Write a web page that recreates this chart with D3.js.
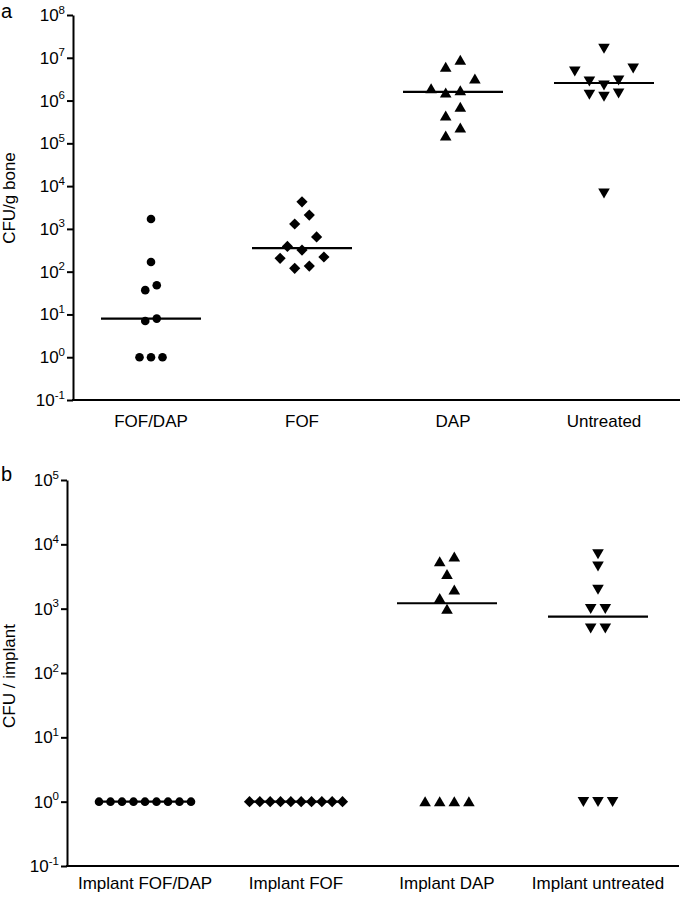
<!DOCTYPE html>
<html>
<head>
<meta charset="utf-8">
<script src="https://cdn.jsdelivr.net/npm/d3@7"></script>
<style>
  html, body { margin: 0; padding: 0; background: #fff; }
  svg { display: block; }
  text { font-family: "Liberation Sans", Arial, Helvetica, sans-serif; fill: #000; }
</style>
</head>
<body>
<svg id="chart" width="680" height="897"></svg>
<script>
// ---------- DATA ----------
const boneCategories = ["FOF/DAP", "FOF", "DAP", "Untreated"];
const implantCategories = ["Implant FOF/DAP", "Implant FOF", "Implant DAP", "Implant untreated"];

// Panel a: CFU / g bone
const boneFofDap    = [1700, 168, 48, 37, 8, 7, 1, 1, 1];
const boneFof       = [4300, 2100, 1300, 650, 390, 320, 220, 205, 135, 120];
const boneDap       = [8.8e6, 6.0e6, 3.2e6, 1.9e6, 1.7e6, 1.5e6, 7.0e5, 4.4e5, 2.3e5, 1.5e5];
const boneUntreated = [1.65e7, 5.7e6, 4.9e6, 3.0e6, 2.85e6, 2.3e6, 1.5e6, 1.4e6, 1.25e6, 6900];

// Panel b: CFU / implant
const implantFofDap    = [1, 1, 1, 1, 1, 1, 1, 1, 1];
const implantFof       = [1, 1, 1, 1, 1, 1, 1, 1, 1, 1];
const implantDap       = [6400, 5400, 3400, 1950, 1450, 980, 1, 1, 1, 1];
const implantUntreated = [7100, 4600, 2000, 1000, 1000, 500, 500, 1, 1, 1];

// Tick exponents (labels 10^n)
const boneTickExponents = [-1, 0, 1, 2, 3, 4, 5, 6, 7, 8];
const implantTickExponents = [-1, 0, 1, 2, 3, 4, 5];

const boneTitle = "CFU/g bone";
const implantTitle = "CFU / implant";

// ---------- DRAWING ----------
const svg = d3.select("#chart");
const symbolsOrder = ["circle", "diamond", "triUp", "triDown"];

function markerPath(type) {
  if (type === "diamond") return "M0,-5.6L5.6,0L0,5.6L-5.6,0Z";
  if (type === "triUp") return "M0,-5.4L5.8,4.6L-5.8,4.6Z";
  if (type === "triDown") return "M0,5.4L5.8,-4.6L-5.8,-4.6Z";
  return null;
}

function swarm(vals, y, baseStep, maxSpread) {
  const items = vals.map((v, i) => ({ v, i, y: y(v) }))
    .sort((a, b) => a.y - b.y || a.i - b.i);
  const rows = [];
  let cur = null;
  items.forEach(it => {
    if (cur && it.y - cur.last <= 10.5 && it.y - cur.start <= 18) {
      cur.items.push(it); cur.last = it.y;
    } else {
      cur = { start: it.y, last: it.y, items: [it] };
      rows.push(cur);
    }
  });
  rows.forEach(r => {
    const n = r.items.length;
    const step = n > 1 ? Math.min(baseStep, maxSpread / (n - 1)) : 0;
    const order = [];
    let lo = 0, hi = n - 1;
    while (lo <= hi) { order.push(hi); if (lo !== hi) order.push(lo); hi--; lo++; }
    r.items.forEach((it, k) => { it.dx = (order[k] - (n - 1) / 2) * step; });
  });
  return items;
}

function drawPanel(cfg) {
  const g = svg.append("g");
  const y = d3.scaleLog().domain([0.1, Math.pow(10, d3.max(cfg.ticks))])
    .range([cfg.yBottom, cfg.yTop]);
  const x = d3.scalePoint().domain(cfg.categories)
    .range([cfg.x0 + 78, cfg.x0 + 78 + 453]);

  // Y axis
  const yAxis = d3.axisLeft(y)
    .tickValues(cfg.ticks.map(e => Math.pow(10, e)))
    .tickSize(6).tickSizeOuter(0).tickFormat(() => "");
  const ya = g.append("g").attr("transform", `translate(${cfg.x0},0)`).call(yAxis);
  ya.select(".domain").attr("stroke", "#000").attr("stroke-width", 2);
  ya.selectAll(".tick line").attr("stroke", "#000").attr("stroke-width", 2);

  // tick labels 10^n
  const lab = g.append("g");
  cfg.ticks.forEach(e => {
    const t = lab.append("text")
      .attr("x", cfg.x0 - 8)
      .attr("y", y(Math.pow(10, e)) + 6)
      .attr("text-anchor", "end")
      .style("font-size", "17px");
    t.append("tspan").text("10");
    t.append("tspan").attr("dy", -7.5).style("font-size", "11.5px").text(String(e));
  });

  // X axis baseline
  g.append("line")
    .attr("x1", cfg.x0 - 1).attr("x2", cfg.x1)
    .attr("y1", cfg.yBottom).attr("y2", cfg.yBottom)
    .attr("stroke", "#000").attr("stroke-width", 2);

  // X labels
  g.selectAll(".xl").data(cfg.categories).join("text")
    .attr("x", d => x(d))
    .attr("y", cfg.labelY)
    .attr("text-anchor", "middle")
    .style("font-size", "17px")
    .text(d => d);

  // Y title
  g.append("text")
    .attr("transform", `translate(${cfg.titleX},${cfg.titleY}) rotate(-90)`)
    .attr("text-anchor", "middle")
    .style("font-size", "17px")
    .text(cfg.title);

  // Panel letter
  g.append("text").attr("x", 1).attr("y", cfg.letterY)
    .style("font-size", "20px").text(cfg.letter);

  // Medians and points
  cfg.series.forEach((vals, si) => {
    const cx = x(cfg.categories[si]);
    const med = d3.median(vals);
    g.append("line")
      .attr("x1", cx - 50).attr("x2", cx + 50)
      .attr("y1", y(med)).attr("y2", y(med))
      .attr("stroke", "#000").attr("stroke-width", 2.2);

    const type = symbolsOrder[si];
    const base = type === "circle" ? 11.5 : 14.6;
    const pts = swarm(vals, y, base, 93);
    if (type === "circle") {
      g.selectAll(null).data(pts).join("circle")
        .attr("cx", d => cx + d.dx).attr("cy", d => d.y)
        .attr("r", 4.3).attr("fill", "#000");
    } else {
      g.selectAll(null).data(pts).join("path")
        .attr("d", markerPath(type))
        .attr("transform", d => `translate(${cx + d.dx},${d.y})`)
        .attr("fill", "#000");
    }
  });
}

drawPanel({
  categories: boneCategories,
  series: [boneFofDap, boneFof, boneDap, boneUntreated],
  ticks: boneTickExponents,
  x0: 73, x1: 680, yTop: 15, yBottom: 400,
  labelY: 427, title: boneTitle, titleX: 15, titleY: 198,
  letter: "a", letterY: 18
});

drawPanel({
  categories: implantCategories,
  series: [implantFofDap, implantFof, implantDap, implantUntreated],
  ticks: implantTickExponents,
  x0: 67, x1: 679, yTop: 480, yBottom: 866,
  labelY: 889, title: implantTitle, titleX: 15, titleY: 676,
  letter: "b", letterY: 481
});
</script>
</body>
</html>
